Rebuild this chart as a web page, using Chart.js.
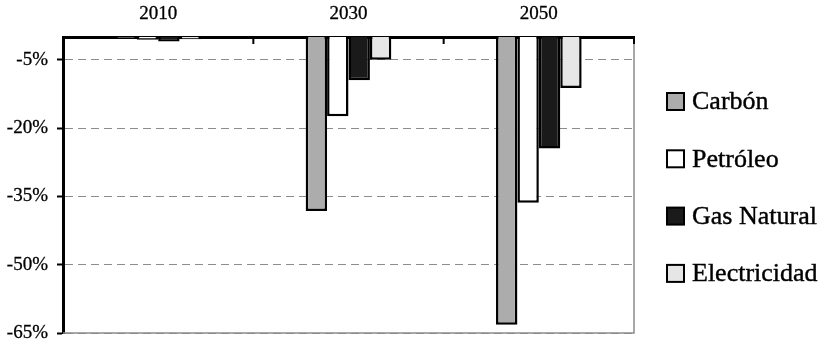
<!DOCTYPE html>
<html>
<head>
<meta charset="utf-8">
<script src="https://cdn.jsdelivr.net/npm/chart.js@4/dist/chart.umd.min.js"></script>
<style>
  html, body { margin: 0; padding: 0; background: #ffffff; }
  #wrap { width: 824px; height: 345px; }
</style>
</head>
<body>
<div id="wrap"><canvas id="c" width="824" height="345"></canvas></div>
<script>
// Variación del consumo por fuente de energía (%)
const years = ['2010', '2030', '2050'];
const carbon = [-0.2, -38.2, -63.2];
const petroleo = [-0.6, -17.4, -36.4];
const gasNatural = [-1.0, -9.5, -24.5];
const electricidad = [-0.5, -5.0, -11.2];
const yTicks = [-5, -20, -35, -50, -65];

const seriesNames = ['Carbón', 'Petróleo', 'Gas Natural', 'Electricidad'];
const seriesColors = ['#acacac', '#ffffff', '#1a1a1a', '#e6e6e6'];
const seriesValues = [carbon, petroleo, gasNatural, electricidad];

const FONT = "'Liberation Serif', 'Times New Roman', serif";

// Frame, inward category tick marks and the side legend
const framePlugin = {
  id: 'frame',
  afterDatasetsDraw(chart) {
    const { ctx, chartArea: a, scales } = chart;
    const xs = scales.x;
    ctx.save();
    // right and bottom plot borders
    ctx.strokeStyle = '#8c8c8c';
    ctx.lineWidth = 1.5;
    ctx.beginPath();
    ctx.moveTo(a.right, a.top);
    ctx.lineTo(a.right, a.bottom);
    ctx.lineTo(a.left, a.bottom);
    ctx.stroke();
    // tick marks between categories, pointing down from the top axis
    ctx.strokeStyle = '#000000';
    ctx.lineWidth = 2;
    for (let i = 0; i < years.length; i++) {
      const xr = i < years.length - 1
        ? (xs.getPixelForValue(i) + xs.getPixelForValue(i + 1)) / 2
        : a.right;
      ctx.beginPath();
      ctx.moveTo(xr, a.top);
      ctx.lineTo(xr, a.top + 7);
      ctx.stroke();
    }
    ctx.restore();
  },
  afterDraw(chart) {
    const { ctx } = chart;
    ctx.save();
    const boxX = 667, box = 17, textX = 692, top = 101.5, step = 57.3;
    ctx.font = '26px ' + FONT;
    ctx.textBaseline = 'middle';
    ctx.textAlign = 'left';
    chart.data.datasets.forEach((ds, i) => {
      const cy = top + i * step;
      ctx.fillStyle = ds.backgroundColor;
      ctx.fillRect(boxX, cy - box / 2, box, box);
      ctx.strokeStyle = '#000000';
      ctx.lineWidth = 2;
      ctx.strokeRect(boxX, cy - box / 2, box, box);
      ctx.fillStyle = '#000000';
      ctx.lineWidth = 0.4;
      ctx.strokeText(ds.label, textX, cy + 1);
      ctx.fillText(ds.label, textX, cy + 1);
    });
    ctx.restore();
  }
};

new Chart(document.getElementById('c'), {
  type: 'bar',
  data: {
    labels: years,
    datasets: seriesNames.map((name, i) => ({
      label: name,
      data: seriesValues[i],
      backgroundColor: seriesColors[i],
      borderColor: '#000000',
      borderWidth: 2.5,
      categoryPercentage: 0.45,
      barPercentage: 1.0
    }))
  },
  options: {
    responsive: false,
    animation: false,
    devicePixelRatio: 1,
    layout: { padding: { top: 0, left: 0, right: 190, bottom: 12 } },
    plugins: {
      legend: { display: false },
      tooltip: { enabled: false }
    },
    scales: {
      x: {
        position: 'top',
        grid: { display: false, drawTicks: false },
        border: { display: true, color: '#000000', width: 3 },
        ticks: {
          color: '#000000',
          font: { family: FONT, size: 19 },
          padding: 12,
          textStrokeColor: '#000000',
          textStrokeWidth: 0.3
        },
        afterFit(scale) { scale.height = 37; scale.paddingLeft = 0; scale.paddingRight = 0; }
      },
      y: {
        min: -65,
        max: 0,
        afterBuildTicks(scale) { scale.ticks = yTicks.map(v => ({ value: v })); },
        grid: {
          color: '#8c8c8c',
          lineWidth: 1,
          borderDash: [8, 5],
          drawTicks: true,
          tickLength: 6,
          tickColor: '#000000',
          tickWidth: 2,
          tickBorderDash: []
        },
        border: { display: true, color: '#000000', width: 3, dash: [8, 5] },
        ticks: {
          color: '#000000',
          font: { family: FONT, size: 19 },
          padding: 9,
          textStrokeColor: '#000000',
          textStrokeWidth: 0.3,
          callback: v => v + '%'
        },
        afterFit(scale) { scale.width = 63; scale.paddingTop = 0; scale.paddingBottom = 0; }
      }
    }
  },
  plugins: [framePlugin]
});
</script>
</body>
</html>
